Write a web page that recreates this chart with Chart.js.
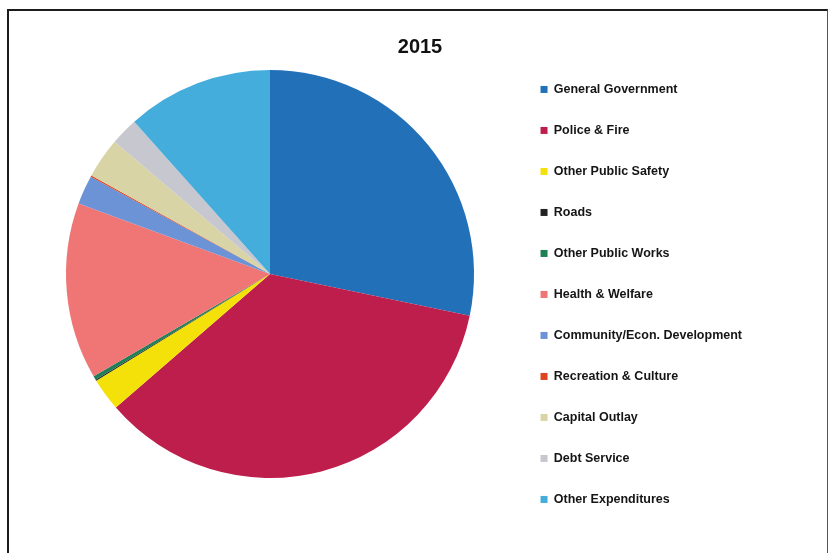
<!DOCTYPE html>
<html>
<head>
<meta charset="utf-8">
<script src="https://cdn.jsdelivr.net/npm/chart.js@4.4.1/dist/chart.umd.min.js"></script>
<style>
html,body{margin:0;padding:0;background:#ffffff;overflow:hidden;width:828px;height:553px}
#frame{position:absolute;left:7px;top:9px;width:818px;height:580px;border-left:2px solid #1c1c1c;border-top:2px solid #1c1c1c;border-right:1px solid #555}
#c{position:absolute;left:0;top:0}
</style>
</head>
<body>
<div id="frame"></div>
<canvas id="c" width="828" height="553"></canvas>
<script>
// ---- data ----
const chartTitle = '2015';
const categories = [
  'General Government',
  'Police & Fire',
  'Other Public Safety',
  'Roads',
  'Other Public Works',
  'Health & Welfare',
  'Community/Econ. Development',
  'Recreation & Culture',
  'Capital Outlay',
  'Debt Service',
  'Other Expenditures'
];
const shares = [28.3, 35.4, 2.6, 0.1, 0.3, 14.0, 2.3, 0.1, 3.2, 2.2, 11.6];
const sliceColors = [
  '#2270b8', '#be1e4c', '#f5e10a', '#222222', '#1f7f55', '#f07676',
  '#6b93d6', '#e0431f', '#d8d4a6', '#c7c7cf', '#44addc'
];

// ---- empty layout boxes used only to reserve space ----
function spacerBox(position, size, weight) {
  return {
    position: position,
    weight: weight,
    fullSize: false,
    options: { display: false },
    isHorizontal() { return position === 'top' || position === 'bottom'; },
    update(maxWidth, maxHeight) {
      if (this.isHorizontal()) { this.width = maxWidth; this.height = size; }
      else { this.width = size; this.height = maxHeight; }
    },
    getPadding() { return { left: 0, right: 0, top: 0, bottom: 0 }; },
    draw() {}
  };
}
const spacers = {
  id: 'spacers',
  beforeInit(chart) {
    Chart.layouts.addBox(chart, spacerBox('bottom', 65, 3000));
    Chart.layouts.addBox(chart, spacerBox('right', 60, 3000));
  }
};

new Chart(document.getElementById('c'), {
  type: 'pie',
  data: {
    labels: categories,
    datasets: [{
      data: shares,
      backgroundColor: sliceColors,
      borderWidth: 0,
      hoverOffset: 0
    }]
  },
  plugins: [spacers],
  options: {
    responsive: false,
    animation: false,
    devicePixelRatio: 1,
    layout: { padding: { left: 28, right: 16, top: 0, bottom: 10 } },
    plugins: {
      tooltip: { enabled: false },
      title: {
        display: true,
        text: chartTitle,
        color: '#111111',
        font: { family: 'Liberation Sans', size: 20, weight: 'bold' },
        padding: { top: 35, bottom: 11 }
      },
      legend: {
        position: 'right',
        align: 'start',
        fullSize: true,
        title: {
          display: true,
          text: ' ',
          font: { family: 'Liberation Sans', size: 11 },
          padding: { top: 41.5, bottom: 0 }
        },
        labels: {
          boxWidth: 7,
          boxHeight: 7,
          padding: 28.5,
          color: '#151515',
          font: { family: 'Liberation Sans', size: 12.5, weight: 'bold' }
        }
      }
    }
  }
});
</script>
</body>
</html>
